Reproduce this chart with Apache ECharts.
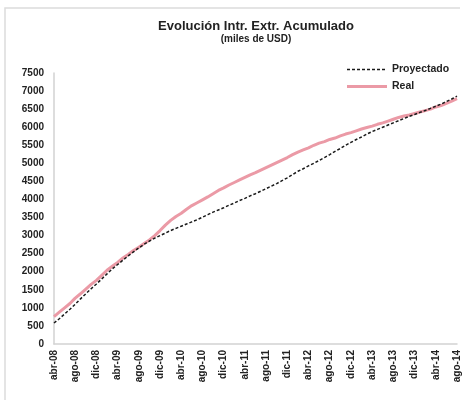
<!DOCTYPE html>
<html><head><meta charset="utf-8">
<script src="https://cdn.jsdelivr.net/npm/echarts@6/dist/echarts.min.js"></script>
<style>html,body{margin:0;padding:0;background:#fff}#c{width:463px;height:416px}</style>
</head><body><div id="c"></div>
<script>
const monthNames = ['ene','feb','mar','abr','may','jun','jul','ago','sep','oct','nov','dic'];
const startYear = 2008, startMonth = 3, monthCount = 77; // abr-08 .. ago-14
const categories = [];
for (let i = 0; i < monthCount; i++) {
  const m = (startMonth + i) % 12;
  const y = startYear + Math.floor((startMonth + i) / 12);
  categories.push(monthNames[m] + '-' + String(y % 100).padStart(2, '0'));
}
const yTicks = {min: 0, max: 7500, interval: 500};
const proyectado = [580,700,830,960,1100,1250,1390,1530,1660,1800,1940,2080,2200,2320,2440,2550,2660,2760,2850,2930,
  3000,3070,3140,3200,3260,3320,3380,3440,3510,3580,3650,3710,3770,3840,3900,3970,4030,4100,4160,4230,
  4300,4370,4440,4520,4600,4690,4780,4850,4930,5000,5080,5160,5240,5330,5410,5500,5580,5660,5730,5810,
  5880,5940,6000,6060,6120,6180,6240,6300,6350,6410,6460,6520,6580,6640,6710,6780,6860];
const real = [760,880,1000,1120,1270,1390,1520,1650,1760,1900,2040,2150,2260,2380,2480,2590,2680,2780,2880,3000,
  3140,3290,3420,3530,3620,3730,3830,3910,3990,4070,4160,4250,4320,4400,4470,4540,4610,4680,4740,4810,
  4880,4950,5020,5090,5160,5240,5310,5370,5430,5500,5560,5600,5660,5700,5760,5810,5850,5900,5950,5990,
  6030,6080,6120,6170,6220,6270,6310,6340,6380,6420,6460,6500,6560,6600,6660,6720,6790];

const FONT = 'Liberation Sans';
const chart = echarts.init(document.getElementById('c'), null, {renderer: 'canvas'});
chart.setOption({
  animation: false,
  backgroundColor: '#fff',
  textStyle: {fontFamily: FONT},
  title: {
    text: 'Evolución Intr. Extr. Acumulado',
    subtext: '(miles de USD)',
    left: 251, top: 15, textAlign: 'center', itemGap: 1,
    textStyle: {fontFamily: FONT, fontSize: 13, fontWeight: 'bold', color: '#222'},
    subtextStyle: {fontFamily: FONT, fontSize: 10, fontWeight: 'bold', color: '#222'}
  },
  graphic: [{
    type: 'polyline', silent: true,
    shape: {points: [[5, 400], [5, 8], [460, 8]]},
    style: {stroke: '#dcdcdc', lineWidth: 1.5, fill: null}
  }],
  legend: {
    orient: 'vertical', left: 342, top: 59, itemGap: 6,
    itemWidth: 40, itemHeight: 10,
    textStyle: {fontFamily: FONT, fontSize: 10.5, fontWeight: 'bold', color: '#222'},
    data: [
      {name: 'Proyectado', icon: 'path://M0,4.3 h3 v1.4 h-3 Z M5,4.3 h3 v1.4 h-3 Z M10,4.3 h3 v1.4 h-3 Z M15,4.3 h3 v1.4 h-3 Z M20,4.3 h3 v1.4 h-3 Z M25,4.3 h3 v1.4 h-3 Z M30,4.3 h3 v1.4 h-3 Z M35,4.3 h3 v1.4 h-3 Z M40,4.3 h0 v1.4 h0 Z M0,0 h0.01 v10 h-0.01 Z'},
      {name: 'Real', icon: 'path://M0,3.5 L40,3.5 L40,6.5 L0,6.5 Z M0,0 h0.01 v10 h-0.01 Z'}
    ]
  },
  grid: {left: 54, right: 6, top: 73, bottom: 72},
  xAxis: {
    type: 'category', data: categories, boundaryGap: false,
    axisLine: {lineStyle: {color: '#d2d2d2', width: 1.5}},
    axisTick: {show: false},
    axisLabel: {interval: 3, rotate: 90, fontFamily: FONT, fontSize: 10, fontWeight: 'bold', color: '#222', margin: 6}
  },
  yAxis: {
    type: 'value', min: yTicks.min, max: yTicks.max, interval: yTicks.interval,
    axisLine: {show: true, lineStyle: {color: '#d2d2d2', width: 1.5}},
    axisTick: {show: false},
    splitLine: {show: false},
    axisLabel: {fontFamily: FONT, fontSize: 10, fontWeight: 'bold', color: '#222', margin: 10,
      formatter: v => String(v)}
  },
  series: [
    {name: 'Proyectado', type: 'line', data: proyectado, showSymbol: false, z: 3,
     itemStyle: {color: '#1a1a1a'},
     lineStyle: {color: '#1a1a1a', width: 1.5, type: [3, 2]}},
    {name: 'Real', type: 'line', data: real, showSymbol: false, z: 2,
     itemStyle: {color: '#eb9aa6'},
     lineStyle: {color: '#eb9aa6', width: 3}}
  ]
});
</script></body></html>
